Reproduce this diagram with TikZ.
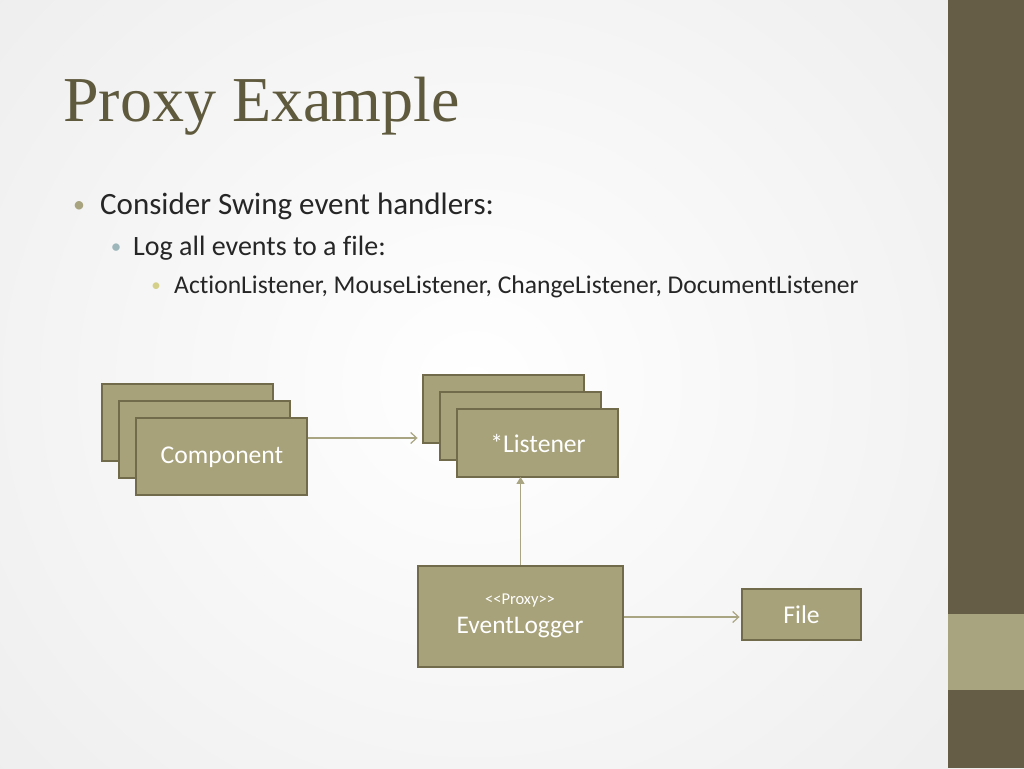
\documentclass[tikz,border=0pt]{standalone}
\usepackage{fontspec}
\setmainfont{Carlito}[Ligatures=NoCommon]
\newfontfamily\titlefont{Liberation Serif}
\usetikzlibrary{arrows.meta}
\definecolor{bardark}{HTML}{655D45}
\definecolor{barlight}{HTML}{A8A47F}
\definecolor{boxfill}{HTML}{A8A27A}
\definecolor{boxline}{HTML}{716A4B}
\definecolor{titlecol}{HTML}{5F5A3E}
\definecolor{arrcol}{HTML}{A9A583}
\definecolor{bulA}{HTML}{A8A47F}
\definecolor{bulB}{HTML}{9DB6BA}
\definecolor{bulC}{HTML}{D4D08A}
\definecolor{txt}{HTML}{262626}
\tikzset{
  umlbox/.style={draw=boxline, fill=boxfill, line width=2.9pt, inner sep=0pt, text=white},
  arr/.style={draw=arrcol, line width=1.2pt, -{Straight Barb[length=6pt,width=11pt,line width=1.2pt]}},
  bul/.style={anchor=base, inner sep=0pt},
  btxt/.style={anchor=base west, inner sep=0pt, text=txt},
}
\begin{document}
\begin{tikzpicture}[x=1pt,y=-1pt]
\useasboundingbox (0,0) rectangle (1024,768);
\shade[inner color=white, outer color=black!7] (-200,-250) rectangle (1148,1018);
% side bar
\fill[bardark] (948,0) rectangle (1024,768);
\fill[barlight] (948,614) rectangle (1024,690);
% title
\node[anchor=base west, inner sep=0pt, text=titlecol, font=\titlefont\fontsize{64}{64}\selectfont] (title) at (63,121) {Proxy Example};
% bullets
\node[bul, text=bulA, font=\fontsize{24}{24}\selectfont] (b1) at (79,212) {•};
\node[btxt, font=\fontsize{31}{31}\selectfont] (t1) at (100,214) {Consider Swing event handlers:};
\node[bul, text=bulB, font=\fontsize{21}{21}\selectfont] (b2) at (116,253) {•};
\node[btxt, font=\fontsize{28}{28}\selectfont] (t2) at (133,255) {Log all events to a file:};
\node[bul, text=bulC, font=\fontsize{19}{19}\selectfont] (b3) at (156,291) {•};
\node[btxt, font=\fontsize{25.6}{25.6}\selectfont] (t3) at (174,293) {ActionListener, MouseListener, ChangeListener, DocumentListener};
% component stack
\node[umlbox, minimum width=171pt, minimum height=77pt] (c1) at (187.5,422.5) {};
\node[umlbox, minimum width=171pt, minimum height=77pt] (c2) at (204.5,439.5) {};
\node[umlbox, minimum width=171pt, minimum height=77pt] (c3) at (221.5,456.5) {};
\node[text=white, inner sep=0pt, font=\fontsize{25.6}{25.6}\selectfont] (c3t) at (222,457) {Component};
% listener stack
\node[umlbox, minimum width=161pt, minimum height=68pt] (l1) at (503.5,409) {};
\node[umlbox, minimum width=161pt, minimum height=68pt] (l2) at (520.5,426) {};
\node[umlbox, minimum width=161pt, minimum height=68pt] (l3) at (537.5,443) {};
\node[text=white, inner sep=0pt, font=\fontsize{25.6}{25.6}\selectfont] (l3t) at (538,443) {*Listener};
% event logger
\node[umlbox, minimum width=205pt, minimum height=101pt] (ev) at (520.5,616.5) {};
\node[text=white, inner sep=0pt, font=\fontsize{16.5}{16.5}\selectfont] (evs) at (520,601) {<{}<Proxy>{}>};
\node[text=white, inner sep=0pt, font=\fontsize{25.4}{25.4}\selectfont] (evn) at (520,628) {EventLogger};
% file
\node[umlbox, minimum width=119pt, minimum height=51pt] (file) at (801.5,614.5) {};
\node[text=white, inner sep=0pt, font=\fontsize{25.6}{25.6}\selectfont] (filet) at (801.5,615) {File};
% connectors
\coordinate (a1) at (c3.east |- 0,438);
\coordinate (a2) at (l1.west |- 0,438);
\draw[arr] (a1) -- ([xshift=-4pt]a2);
\draw[arr, -{Triangle[length=7pt,width=8pt]}] (ev.north) -- ([yshift=1.5pt]ev.north |- l3.south);
\draw[arr] (ev.east |- 0,617) -- ([xshift=-1pt]file.west |- 0,617);
\end{tikzpicture}
\end{document}
